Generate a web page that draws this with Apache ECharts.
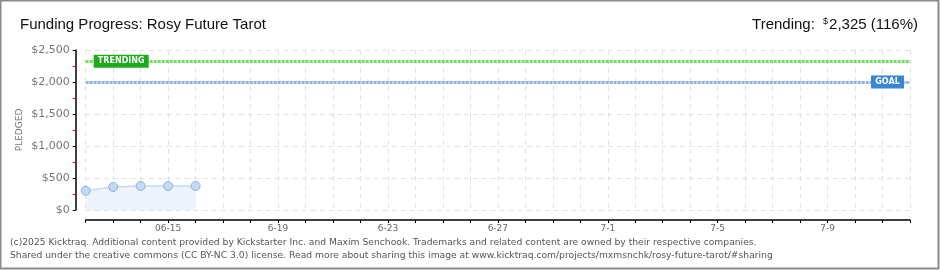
<!DOCTYPE html>
<html><head><meta charset="utf-8">
<script src="https://cdn.jsdelivr.net/npm/echarts@6/dist/echarts.min.js"></script>
<style>html,body{margin:0;padding:0;background:#fff}#c{width:940px;height:270px}</style>
</head><body><div id="c"></div>
<script>
const categories = ['06-12','06-13','06-14','06-15','06-16','06-17','06-18','6-19','06-20','06-21','06-22','6-23','06-24','06-25','06-26','6-27','06-28','06-29','06-30','7-1','07-02','07-03','07-04','7-5','07-06','07-07','07-08','7-9','07-10','07-11','07-12'];
const pledged = [300, 360, 375, 375, 375];
const goal = 2000;
const trending = 2325;
const yTicks = [0, 500, 1000, 1500, 2000, 2500];
const shownLabels = ['06-15','6-19','6-23','6-27','7-1','7-5','7-9'];

const chart = echarts.init(document.getElementById('c'));
chart.setOption({
  animation: false,
  title: [
    {text: 'Funding Progress: Rosy Future Tarot', left: 15, top: 12,
     textStyle: {fontFamily: 'Liberation Sans', fontSize: 15, fontWeight: 'normal', color: '#111'}},
    {text: 'Trending: {s|$}2,325 (116%)', right: 17, top: 12,
     textStyle: {fontFamily: 'Liberation Sans', fontSize: 15, fontWeight: 'normal', color: '#111',
       rich: {s: {fontFamily: 'Liberation Sans', fontSize: 9, verticalAlign: 'top', color: '#111', padding: [0,1,7,4]}}}}
  ],
  grid: {left: 85.7, right: 30, top: 50, bottom: 60},
  xAxis: {
    type: 'category', data: categories, boundaryGap: false, offset: 10,
    axisLine: {onZero: false, lineStyle: {color: '#000', width: 1.5}},
    axisTick: {show: true, interval: 0, length: 3, inside: false, lineStyle: {color: '#000'}},
    axisLabel: {interval: 0, color: '#666', fontFamily: 'DejaVu Sans', fontSize: 9, margin: 4,
      formatter: v => shownLabels.includes(v) ? v : ''},
    splitLine: {show: true, interval: 0, lineStyle: {color: '#e2e2e2', type: [5, 4]}}
  },
  yAxis: {
    type: 'value', min: 0, max: 2500, interval: 500, offset: 10,
    name: 'PLEDGED', nameLocation: 'middle', nameGap: 52, nameRotate: 90, nameMoveOverlap: false,
    nameTextStyle: {color: '#777', fontFamily: 'DejaVu Sans', fontSize: 9},
    axisLine: {show: true, lineStyle: {color: '#000', width: 1.5}},
    axisTick: {show: true, length: 3, lineStyle: {color: '#000'}},
    minorTick: {show: true, splitNumber: 2, length: 3, lineStyle: {color: '#e00'}},
    axisLabel: {color: '#777', fontFamily: 'DejaVu Sans', fontSize: 11, margin: 6,
      formatter: v => yTicks.includes(v) ? '$' + v.toLocaleString('en-US') : ''},
    splitLine: {show: true, lineStyle: {color: '#e2e2e2', type: [5, 4]}}
  },
  series: [{
    type: 'line', data: pledged, symbol: 'circle', symbolSize: 9,
    itemStyle: {color: '#c2daf6', borderColor: '#8eb0d8', borderWidth: 1},
    lineStyle: {color: '#c2daf6', width: 1.5},
    areaStyle: {color: '#eef4fc', opacity: 1},
    markLine: {
      silent: true, symbol: 'none', label: {show: false},
      data: [
        {yAxis: trending, lineStyle: {color: '#72dc62', width: 3, type: [3, 1]}},
        {yAxis: goal, lineStyle: {color: '#8cb2de', width: 3, type: [3, 1]}}
      ]
    },
    markPoint: {
      silent: true,
      data: [
        {coord: ['06-13', trending], symbol: 'rect', symbolSize: [55, 13], symbolOffset: [8, 0],
         itemStyle: {color: '#1eaa1e'},
         label: {show: true, formatter: 'TRENDING', color: '#fff', fontFamily: 'DejaVu Sans', fontSize: 8, fontWeight: 'bold'}},
        {coord: ['07-11', goal], symbol: 'rect', symbolSize: [33, 13], symbolOffset: [5, 0],
         itemStyle: {color: '#3a86d6'},
         label: {show: true, formatter: 'GOAL', color: '#fff', fontFamily: 'DejaVu Sans', fontSize: 8, fontWeight: 'bold'}}
      ]
    }
  }],
  graphic: [
    {type: 'rect', shape: {x: 0.5, y: 0.5, width: 938, height: 268}, style: {fill: 'none', stroke: '#8a8a8a', lineWidth: 2}, silent: true},
    {type: 'text', left: 10, top: 238, style: {text: '(c)2025 Kicktraq. Additional content provided by Kickstarter Inc. and Maxim Senchook. Trademarks and related content are owned by their respective companies.', fill: '#555', font: '9.2px "DejaVu Sans"'}},
    {type: 'text', left: 10, top: 251, style: {text: 'Shared under the creative commons (CC BY-NC 3.0) license. Read more about sharing this image at www.kicktraq.com/projects/mxmsnchk/rosy-future-tarot/#sharing', fill: '#555', font: '9.2px "DejaVu Sans"'}}
  ]
});
</script></body></html>
